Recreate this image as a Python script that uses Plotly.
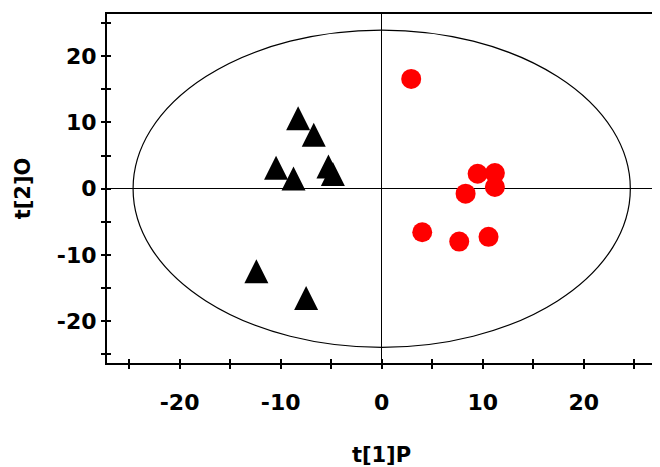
import plotly.graph_objects as go

# Class 1 (black triangles): scores t[1]P, t[2]O
tri_x = [-8.27, -6.72, -10.45, -8.73, -5.27, -4.83, -12.40, -7.48]
tri_y = [10.65, 8.13, 3.16, 1.55, 3.36, 2.21, -12.47, -16.49]

# Class 2 (red circles)
dot_x = [2.92, 9.49, 11.20, 8.30, 11.20, 4.01, 7.67, 10.57]
dot_y = [16.57, 2.26, 2.36, -0.75, 0.26, -6.58, -7.98, -7.27]

# Hotelling T2 ellipse semi-axes
ell_a = 24.6
ell_b = 23.95

x_tickvals = [-25, -20, -15, -10, -5, 0, 5, 10, 15, 20, 25]
x_ticktext = ["", "-20", "", "-10", "", "0", "", "10", "", "20", ""]
y_tickvals = [-25, -20, -15, -10, -5, 0, 5, 10, 15, 20, 25]
y_ticktext = ["", "-20", "", "-10", "", "0", "", "10", "", "20", ""]

x_range = [-27.18, 27.14]
y_range = [-26.31, 26.37]

FONT = dict(family="DejaVu Sans", size=22, color="black", weight="bold")
TFONT = dict(family="DejaVu Sans", size=21, color="black", weight="bold")

fig = go.Figure()
fig.add_trace(go.Scatter(
    x=tri_x, y=tri_y, mode="markers",
    marker=dict(symbol="arrow-down", angle=180, standoff=12, size=24,
                color="black", line=dict(width=0)),
    showlegend=False, hoverinfo="skip"))
fig.add_trace(go.Scatter(
    x=dot_x, y=dot_y, mode="markers",
    marker=dict(symbol="circle", size=20, color="#ff0000", line=dict(width=0)),
    showlegend=False, hoverinfo="skip"))
# invisible trace on overlay axes (for inner tick marks)
fig.add_trace(go.Scatter(x=[0], y=[0], xaxis="x2", yaxis="y2", mode="markers",
                         marker=dict(opacity=0), showlegend=False, hoverinfo="skip"))

fig.add_shape(type="circle", xref="x", yref="y",
              x0=-ell_a, x1=ell_a, y0=-ell_b, y1=ell_b,
              line=dict(color="black", width=1.2), layer="below")

axis_common = dict(showgrid=False, zeroline=True, zerolinecolor="black", zerolinewidth=1.3,
                   showline=True, linecolor="black", linewidth=2, mirror=True,
                   ticks="outside", ticklen=4, tickwidth=1.5, tickcolor="black",
                   tickfont=FONT, automargin=False)

# page body has an 8px default margin; figure is sized to fit the 660x467 window
fig.update_layout(
    width=652, height=459,
    margin=dict(l=99, r=4, t=6, b=104),
    paper_bgcolor="white", plot_bgcolor="white",
    xaxis=dict(range=x_range, tickmode="array", tickvals=x_tickvals, ticktext=x_ticktext,
               ticklabelstandoff=15,
               title=dict(text="t[1]P", font=TFONT, standoff=39), **axis_common),
    yaxis=dict(range=y_range, tickmode="array", tickvals=y_tickvals, ticktext=y_ticktext,
               ticklabelstandoff=0,
               title=dict(text="t[2]O", font=TFONT, standoff=20), **axis_common),
    xaxis2=dict(range=x_range, overlaying="x", side="bottom", tickmode="array",
                tickvals=x_tickvals, showticklabels=False, ticks="inside", ticklen=4,
                tickwidth=1.5, tickcolor="black", showgrid=False, zeroline=False,
                showline=False, automargin=False),
    yaxis2=dict(range=y_range, overlaying="y", side="left", tickmode="array",
                tickvals=y_tickvals, showticklabels=False, ticks="inside", ticklen=4,
                tickwidth=1.5, tickcolor="black", showgrid=False, zeroline=False,
                showline=False, automargin=False),
)

fig.write_html("out.html")
